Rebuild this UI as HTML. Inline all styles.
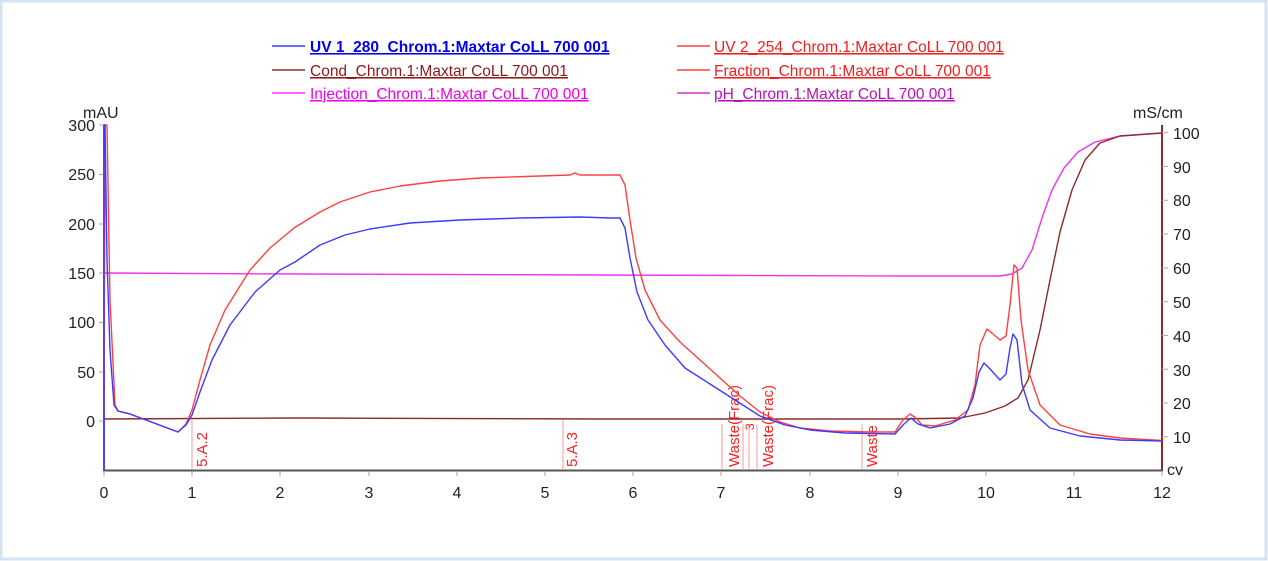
<!DOCTYPE html>
<html><head><meta charset="utf-8"><style>
html,body{margin:0;padding:0;background:#fff}
svg{display:block}
text{font-family:"Liberation Sans",Arial,sans-serif}
</style></head><body>
<svg width="1268" height="561" xmlns="http://www.w3.org/2000/svg">
<rect x="1" y="1" width="1265" height="558" fill="#fff" stroke="#d6e1f1" stroke-width="3"/>
<!-- legend -->
<g font-size="15.5">
<line x1="272" y1="46" x2="305" y2="46" stroke="#3b3bff" stroke-width="1.5"/>
<text x="310" y="52" fill="#0000ee" font-weight="bold" text-decoration="underline">UV 1_280_Chrom.1:Maxtar CoLL 700 001</text>
<line x1="272" y1="70" x2="305" y2="70" stroke="#8b2a2a" stroke-width="1.5"/>
<text x="310" y="76" fill="#8b1a1a" text-decoration="underline">Cond_Chrom.1:Maxtar CoLL 700 001</text>
<line x1="272" y1="93" x2="305" y2="93" stroke="#ff33ff" stroke-width="1.5"/>
<text x="310" y="99" fill="#ee00ee" text-decoration="underline">Injection_Chrom.1:Maxtar CoLL 700 001</text>
<line x1="677" y1="46" x2="710" y2="46" stroke="#ff4040" stroke-width="1.5"/>
<text x="714" y="52" fill="#ee2020" text-decoration="underline">UV 2_254_Chrom.1:Maxtar CoLL 700 001</text>
<line x1="677" y1="70" x2="710" y2="70" stroke="#ff4040" stroke-width="1.5"/>
<text x="714" y="76" fill="#ee2020" text-decoration="underline">Fraction_Chrom.1:Maxtar CoLL 700 001</text>
<line x1="677" y1="93" x2="710" y2="93" stroke="#cc33cc" stroke-width="1.5"/>
<text x="714" y="99" fill="#bb11bb" text-decoration="underline">pH_Chrom.1:Maxtar CoLL 700 001</text>
</g>
<!-- axes -->
<line x1="104" y1="125" x2="104" y2="471" stroke="#6f5cff" stroke-width="2"/>
<line x1="1162" y1="125" x2="1162" y2="471" stroke="#8b2a2a" stroke-width="2"/>
<line x1="103" y1="470.5" x2="1163" y2="470.5" stroke="#555" stroke-width="2"/>
<g stroke="#aaa" stroke-width="1">
<path d="M99 125h5M99 174.5h5M99 224h5M99 273h5M99 322.5h5M99 372h5M99 421h5"/>
<path d="M1162 132.7h6M1162 166.5h6M1162 200.3h6M1162 234h6M1162 267.9h6M1162 301.7h6M1162 335.5h6M1162 369.3h6M1162 403h6M1162 436.7h6"/>
<path d="M104 471v5M192 471v5M280 471v5M369 471v5M457 471v5M545 471v5M633 471v5M721 471v5M810 471v5M898 471v5M986 471v5M1074 471v5M1162 471v5"/>
</g>
<g font-size="16" fill="#222" text-anchor="end">
<text x="95" y="131">300</text><text x="95" y="180">250</text><text x="95" y="230">200</text><text x="95" y="279">150</text><text x="95" y="328">100</text><text x="95" y="378">50</text><text x="95" y="427">0</text>
</g>
<text x="83" y="118" font-size="16" fill="#222">mAU</text>
<g font-size="16" fill="#222">
<text x="1173" y="139">100</text><text x="1173" y="173">90</text><text x="1173" y="206">80</text><text x="1173" y="240">70</text><text x="1173" y="274">60</text><text x="1173" y="308">50</text><text x="1173" y="342">40</text><text x="1173" y="376">30</text><text x="1173" y="409">20</text><text x="1173" y="443">10</text>
<text x="1133" y="118">mS/cm</text><text x="1167" y="475">cv</text>
</g>
<g font-size="16" fill="#222" text-anchor="middle">
<text x="104" y="498">0</text><text x="192" y="498">1</text><text x="280" y="498">2</text><text x="369" y="498">3</text><text x="457" y="498">4</text><text x="545" y="498">5</text><text x="633" y="498">6</text><text x="721" y="498">7</text><text x="810" y="498">8</text><text x="898" y="498">9</text><text x="986" y="498">10</text><text x="1074" y="498">11</text><text x="1162" y="498">12</text>
</g>
<!-- fractions -->
<g stroke="#ff9a9a" stroke-width="1">
<path d="M192 420V470M563 420V470M722 424V470M743 424V470M749 424V470M757 424V470M862 424V470"/>
</g>
<g font-size="15" fill="#ff2020">
<text transform="translate(207,467) rotate(-90)">5.A.2</text>
<text transform="translate(577,467) rotate(-90)">5.A.3</text>
<text transform="translate(739,467) rotate(-90)">Waste(Frac)</text>
<text transform="translate(754,430) rotate(-90)" font-size="12">3</text>
<text transform="translate(773,467) rotate(-90)">Waste(Frac)</text>
<text transform="translate(877,467) rotate(-90)">Waste</text>
</g>
<!-- curves -->
<g fill="none" stroke-width="1.4" stroke-linejoin="round">
<polyline stroke="#ee33ee" points="104,273 300,274 600,275 900,276 1000,276 1012,274 1022,268 1032,250 1042,218 1052,190 1064,168 1078,152 1095,142 1120,136 1162,133"/>
<polyline stroke="#8b2a2a" points="104,419 300,418 600,419 900,419 960,418 985,413 1005,406 1018,398 1028,380 1040,330 1050,280 1060,232 1072,190 1085,160 1100,143 1120,136 1162,133"/>
<polyline stroke="#ff4040" points="104,420 105,125 107,125 110,300 115,405 118,411 130,414 178,432 186,424 192,410 200,380 210,345 225,310 250,270 270,248 294,228 320,212 340,202 370,192 400,186 440,181 480,178 540,176 570,175 575,173 580,175 620,175 625,185 630,220 636,258 645,290 660,320 680,342 700,360 720,378 740,396 760,412 780,422 800,428 830,431 870,432 895,432 903,420 910,414 916,418 922,425 935,426 955,420 968,410 975,385 980,345 987,329 993,334 1000,340 1006,336 1010,305 1014,265 1017,268 1021,320 1028,370 1040,405 1060,425 1090,434 1120,438 1162,440.5"/>
<polyline stroke="#3b3bff" points="104,470 104,125 105,125 107,260 110,350 114,405 118,411 130,414 178,432 186,425 192,415 200,392 212,360 230,325 255,292 280,270 295,262 320,245 345,235 370,229 410,223 460,220 520,218 580,217 610,218 620,218 625,228 630,258 637,292 648,320 665,345 685,368 710,384 735,400 760,416 785,425 810,430 845,433 895,434 904,424 911,418 918,424 930,428 950,424 965,416 973,398 979,372 984,363 991,370 1000,380 1006,374 1010,348 1013,334 1017,340 1022,384 1030,410 1050,428 1080,436 1120,440 1162,441"/>
</g>
</svg>
</body></html>
